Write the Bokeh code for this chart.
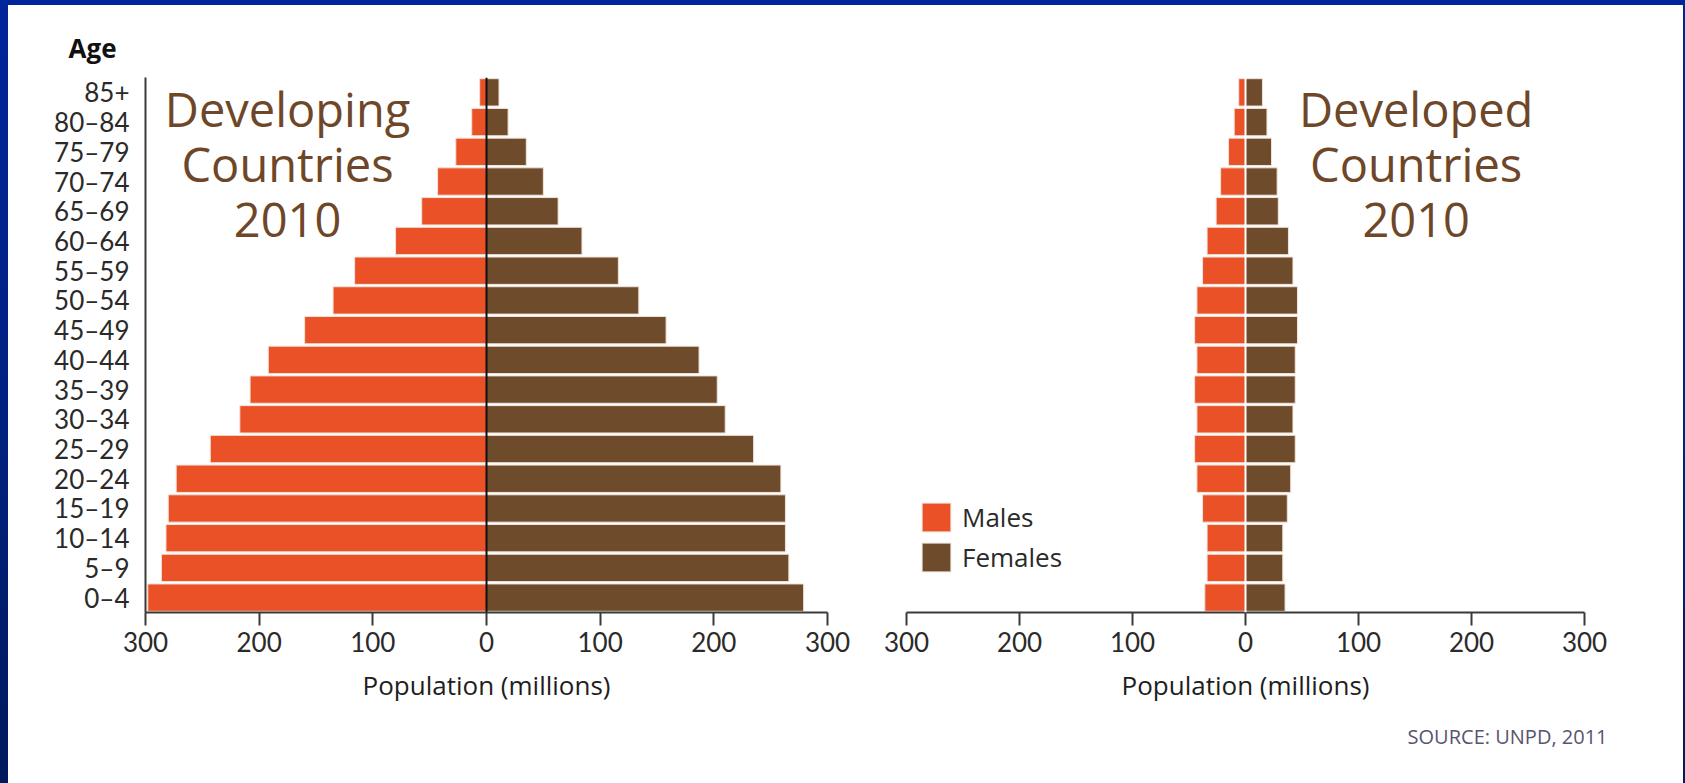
from bokeh.plotting import figure
from bokeh.models import (FactorRange, Range1d, FixedTicker, Span, Label, Legend, Title,
                          LegendItem, ColumnDataSource, GlobalInlineStyleSheet)
from bokeh.layouts import row
from bokeh.embed import file_html
from bokeh.resources import INLINE

# ---------------- data (millions), bottom (0–4) to top (85+) ----------------
ages = ["0\u20134", "5\u20139", "10\u201314", "15\u201319", "20\u201324", "25\u201329",
        "30\u201334", "35\u201339", "40\u201344", "45\u201349", "50\u201354", "55\u201359",
        "60\u201364", "65\u201369", "70\u201374", "75\u201379", "80\u201384", "85+"]

developing_males = [298, 286, 282, 280, 273, 243, 217, 208, 192, 160, 135, 116, 80, 57, 43, 27, 13, 6]
developing_females = [279, 266, 263, 263, 259, 235, 210, 203, 187, 158, 134, 116, 84, 63, 50, 35, 19, 11]

developed_males = [36, 34, 34, 38, 43, 45, 43, 45, 43, 45, 43, 38, 34, 26, 22, 15, 10, 6]
developed_females = [35, 33, 33, 37, 40, 44, 42, 44, 44, 46, 46, 42, 38, 29, 28, 23, 19, 15]

x_ticks = [-300, -200, -100, 0, 100, 200, 300]
x_tick_labels = ["300", "200", "100", "0", "100", "200", "300"]

left_title = ["Developing", "Countries", "2010"]
right_title = ["Developed", "Countries", "2010"]
legend_labels = ["Males", "Females"]
source_note = "SOURCE: UNPD, 2011"

# ---------------- styling ----------------
MALE = "#EB5127"
FEMALE = "#6D4B2B"
TITLE_C = "#6E4628"
FONT = "Lato"
FONT2 = "Open Sans"
H = 778


def make_fig(width, left, right, males, females, with_y):
    src = ColumnDataSource(dict(age=ages,
                                m=[-v for v in males],
                                f=females))
    p = figure(width=width, height=H,
               y_range=FactorRange(factors=ages),
               x_range=Range1d(-300, 300),
               output_backend="svg", toolbar_location=None,
               y_axis_location="left" if with_y else None,
               min_border_left=left, min_border_right=right,
               min_border_top=72, min_border_bottom=171)
    p.background_fill_color = "white"
    p.border_fill_color = "white"
    p.outline_line_color = None
    p.grid.visible = False

    rm = p.hbar(y="age", left="m", right=0, height=0.92, source=src,
                fill_color=MALE, line_color="#f1e3d9", line_width=1)
    rf = p.hbar(y="age", left=0, right="f", height=0.92, source=src,
                fill_color=FEMALE, line_color="#f1e3d9", line_width=1)

    ax = p.xaxis[0]
    ax.ticker = FixedTicker(ticks=x_ticks)
    ax.major_label_overrides = {t: l for t, l in zip(x_ticks, x_tick_labels)}
    ax.axis_label = "Population (millions)"
    ax.axis_label_text_font = FONT2
    ax.axis_label_text_font_size = "26px"
    ax.axis_label_text_font_style = "normal"
    ax.axis_label_text_color = "#1e1e1e"
    ax.axis_label_standoff = 12
    ax.major_label_text_font = FONT
    ax.major_label_text_font_size = "26px"
    ax.major_label_text_color = "#2a2a2a"
    ax.major_label_standoff = 6
    ax.axis_line_color = "#3a3a3a"
    ax.axis_line_width = 2
    ax.major_tick_line_color = "#3a3a3a"
    ax.major_tick_line_width = 2
    ax.major_tick_out = 13
    ax.major_tick_in = 0
    ax.minor_tick_line_color = None

    if with_y:
        ay = p.yaxis[0]
        ay.major_label_text_font = FONT
        ay.major_label_text_font_size = "26px"
        ay.major_label_text_color = "#2a2a2a"
        ay.major_tick_line_color = None
        ay.major_tick_out = 0
        ay.major_tick_in = 0
        ay.major_label_standoff = 16
        ay.axis_line_color = "#3a3a3a"
        ay.axis_line_width = 2
    return p, rm, rf


# ---------------- left: developing ----------------
p1, rm1, rf1 = make_fig(852, 137, 33, developing_males, developing_females, True)
p1.add_layout(Span(location=0, dimension="height", line_color="#111111", line_width=2))
p1.add_layout(Title(text="Age", align="left", offset=-77, standoff=24,
                    text_font=FONT2, text_font_size="26px", text_font_style="bold",
                    text_color="#111111"), "above")
for txt, yy in zip(left_title, [16.93, 15.08, 13.19]):
    p1.add_layout(Label(x=-175, y=yy, text=txt, text_font=FONT2, text_font_size="47px",
                        text_color=TITLE_C, text_align="center", text_baseline="alphabetic"))

# ---------------- right: developed ----------------
p2, rm2, rf2 = make_fig(823, 46, 99, developed_males, developed_females, False)
p2.add_layout(Span(location=0, dimension="height", line_color="white", line_width=2))
for txt, yy in zip(right_title, [16.93, 15.08, 13.19]):
    p2.add_layout(Label(x=151, y=yy, text=txt, text_font=FONT2, text_font_size="47px",
                        text_color=TITLE_C, text_align="center", text_baseline="alphabetic"))

legend = Legend(items=[LegendItem(label=legend_labels[0], renderers=[rm2]),
                       LegendItem(label=legend_labels[1], renderers=[rf2])],
                location=(12, 37), glyph_width=36, glyph_height=36, label_height=36,
                spacing=4, padding=0, margin=0, label_standoff=8,
                label_text_font=FONT2, label_text_font_size="26px",
                label_text_color="#2a2a2a",
                border_line_color=None, background_fill_alpha=0)
p2.add_layout(legend)

p2.add_layout(Title(text=source_note, align="right", offset=-23, standoff=30,
                    text_font=FONT2, text_font_size="20px", text_font_style="normal",
                    text_color="#5b5370"), "below")

css = GlobalInlineStyleSheet(css="""
html { background: linear-gradient(to bottom, #00259c 0%, #00217f 55%, #001a5c 100%); }
body { margin: 5px 2px 0px 8px !important; background: white; overflow: hidden; }
""")

layout = row(p1, p2, stylesheets=[css])

open("out.html", "w").write(file_html(layout, INLINE))
